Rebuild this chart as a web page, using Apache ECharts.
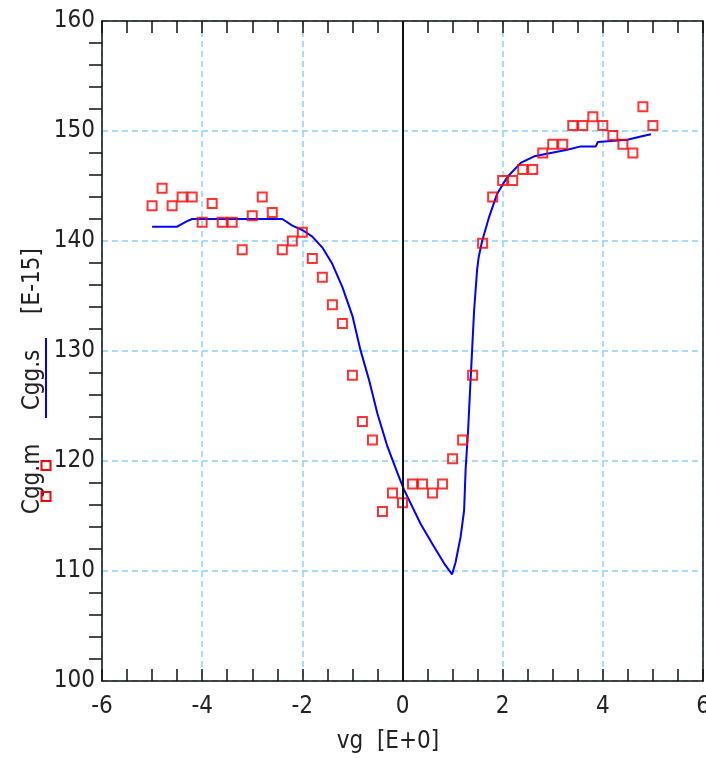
<!DOCTYPE html>
<html>
<head>
<meta charset="utf-8">
<script src="https://cdn.jsdelivr.net/npm/echarts@6/dist/echarts.min.js"></script>
<style>
html,body{margin:0;padding:0;background:#fff;}
#chart{width:706px;height:759px;}
</style>
</head>
<body>
<div id="chart"></div>
<script>
// Measured marker series Cgg.m
const xm = [-5.0,-4.8,-4.6,-4.4,-4.2,-4.0,-3.8,-3.6,-3.4,-3.2,-3.0,-2.8,-2.6,-2.4,-2.2,-2.0,-1.8,-1.6,-1.4,-1.2,-1.0,-0.8,-0.6,-0.4,-0.2,0.0,0.2,0.4,0.6,0.8,1.0,1.2,1.4,1.6,1.8,2.0,2.2,2.4,2.6,2.8,3.0,3.2,3.4,3.6,3.8,4.0,4.2,4.4,4.6,4.8,5.0];
const ym = [143.2,144.8,143.2,144.0,144.0,141.7,143.4,141.7,141.7,139.2,142.3,144.0,142.6,139.2,140.0,140.8,138.4,136.7,134.2,132.5,127.8,123.6,121.9,115.4,117.1,116.2,117.9,117.9,117.1,117.9,120.2,121.9,127.8,139.8,144.0,145.5,145.5,146.5,146.5,148.0,148.8,148.8,150.5,150.5,151.3,150.5,149.6,148.8,148.0,152.2,150.5];
// Simulated line series Cgg.s
const xs = [-5.0,-4.5,-4.3,-4.2,-3.0,-2.4,-2.2,-2.0,-1.8,-1.6,-1.4,-1.2,-1.0,-0.84,-0.67,-0.5,-0.3,-0.1,0.03,0.36,0.63,0.83,0.99,1.06,1.16,1.23,1.26,1.31,1.35,1.39,1.43,1.49,1.52,1.59,1.73,1.89,2.09,2.36,2.63,2.96,3.29,3.56,3.86,3.9,4.49,4.76,4.96];
const ys = [141.3,141.3,141.8,142.0,142.0,142.0,141.4,141.0,140.4,139.4,137.9,135.8,133.2,130.1,127.4,124.3,121.3,118.9,117.4,114.3,112.2,110.7,109.7,110.8,113.1,115.5,119.2,122.8,126.5,130.1,133.7,137.4,138.5,140.0,142.2,144.3,145.8,147.1,147.7,148.0,148.3,148.6,148.6,149.0,149.2,149.5,149.7];
const xTicks = [-6,-4,-2,0,2,4,6];
const yTicks = [100,110,120,130,140,150,160];
const xTitle = 'vg  [E+0]';
const yTitleParts = ['Cgg.m', 'Cgg.s', '[E-15]'];

const FONT = '"Liberation Sans Narrow","Arial Narrow","DejaVu Sans Condensed",sans-serif';
const TXT = '#222';
const GRID = '#8fd0f8';

const chart = echarts.init(document.getElementById('chart'), null, {renderer:'canvas'});
const lineData = xs.map((x,i)=>[x, ys[i]]);
const markData = xm.map((x,i)=>[x, ym[i]]);

const option = {
  animation:false,
  backgroundColor:'#fff',
  grid:{left:102, top:21, width:601, height:660, containLabel:false, outerBoundsMode:'none'},
  xAxis:[{
    type:'value', min:xTicks[0], max:xTicks[xTicks.length-1], interval:2, position:'bottom',
    axisLine:{show:true, onZero:false, lineStyle:{color:'#111', width:1.5}},
    axisTick:{show:true, inside:true, length:12, lineStyle:{color:'#111', width:1.5}},
    minorTick:{show:true, splitNumber:4, length:12, lineStyle:{color:'#111', width:1.5}},
    axisLabel:{fontSize:24, fontFamily:FONT, color:TXT, margin:14},
    splitLine:{show:true, lineStyle:{color:GRID, width:1.5, type:[6,4]}}
  },{
    type:'value', min:xTicks[0], max:xTicks[xTicks.length-1], interval:2, position:'top',
    axisLine:{show:true, onZero:false, lineStyle:{color:'#111', width:1.5}},
    axisTick:{show:true, inside:true, length:12, lineStyle:{color:'#111', width:1.5}},
    minorTick:{show:true, splitNumber:4, length:12, lineStyle:{color:'#111', width:1.5}},
    axisLabel:{show:false},
    splitLine:{show:false}
  }],
  yAxis:[{
    type:'value', min:yTicks[0], max:yTicks[yTicks.length-1], interval:10, position:'left',
    axisLine:{show:true, onZero:false, lineStyle:{color:'#111', width:1.5}},
    axisTick:{show:false},
    minorTick:{show:true, splitNumber:5, length:13, lineStyle:{color:'#111', width:1.5}},
    axisLabel:{fontSize:24, fontFamily:FONT, color:TXT, margin:7, padding:[0,0,6,0]},
    splitLine:{show:true, lineStyle:{color:GRID, width:1.5, type:[6,4]}}
  },{
    type:'value', min:yTicks[0], max:yTicks[yTicks.length-1], interval:10, position:'right',
    axisLine:{show:true, onZero:false, lineStyle:{color:'#111', width:1.5}},
    axisTick:{show:false}, axisLabel:{show:false}, splitLine:{show:false}
  }],
  series:[{
    name:'Cgg.s', type:'line', data:lineData, showSymbol:false, symbol:'none',
    lineStyle:{color:'#0000ff', width:2}, itemStyle:{color:'#0000ff'},
    markLine:{silent:true, symbol:'none', label:{show:false},
      lineStyle:{color:'#111', width:2, type:'solid'}, data:[{xAxis:0}]},
    z:2
  },{
    name:'Cgg.m', type:'scatter', data:markData, symbol:'rect', symbolSize:9,
    itemStyle:{color:'rgba(0,0,0,0)', borderColor:'#ff0000', borderWidth:2},
    z:3
  }],
  graphic:[
    {type:'text', x:388, y:742, silent:true,
      style:{text:xTitle, x:0, y:0, textAlign:'center', textVerticalAlign:'middle', font:'24px '+FONT, fill:TXT}},
    {type:'text', x:33, y:479, rotation:Math.PI/2, silent:true,
      style:{text:yTitleParts[0], x:0, y:0, textAlign:'center', textVerticalAlign:'middle', font:'24px '+FONT, fill:TXT}},
    {type:'text', x:33, y:380, rotation:Math.PI/2, silent:true,
      style:{text:yTitleParts[1], x:0, y:0, textAlign:'center', textVerticalAlign:'middle', font:'24px '+FONT, fill:TXT}},
    {type:'text', x:33, y:281, rotation:Math.PI/2, silent:true,
      style:{text:yTitleParts[2], x:0, y:0, textAlign:'center', textVerticalAlign:'middle', font:'24px '+FONT, fill:TXT}},
    {type:'line', silent:true, shape:{x1:46, y1:338, x2:46, y2:418}, style:{stroke:'#0000ff', lineWidth:2}},
    {type:'rect', silent:true, shape:{x:41.5, y:461, width:9, height:9}, style:{fill:'none', stroke:'#ff0000', lineWidth:2}},
    {type:'rect', silent:true, shape:{x:41.5, y:492, width:9, height:9}, style:{fill:'none', stroke:'#ff0000', lineWidth:2}}
  ]
};
chart.setOption(option);
</script>
</body>
</html>
